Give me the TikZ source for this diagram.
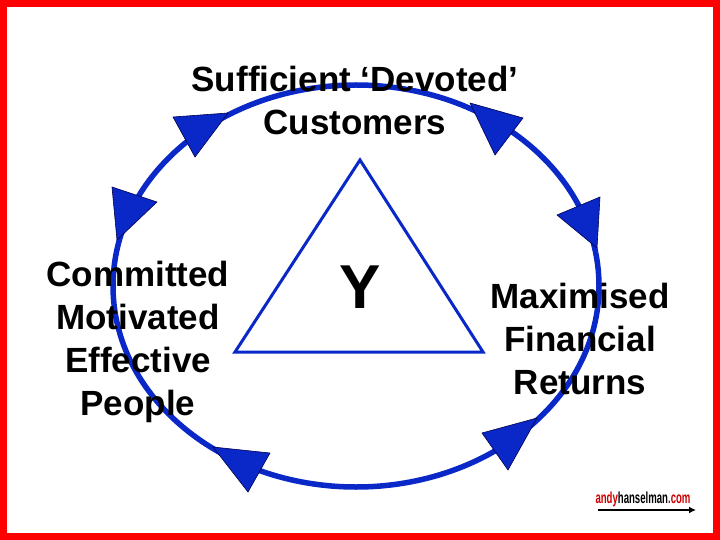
\documentclass[tikz,border=0pt]{standalone}
\usepackage{fontspec}
\usetikzlibrary{arrows.meta}
\setmainfont{Liberation Sans}
\begin{document}
\begin{tikzpicture}[x=1pt,y=-1pt,
  lbl/.style={align=center,font=\bfseries\fontsize{35}{43}\selectfont,inner sep=0pt},
  head/.style={fill={rgb,255:red,10;green,40;blue,200},draw=black!70!blue,line width=0.6pt,line join=miter}]
\definecolor{cblue}{RGB}{10,40,200}
\useasboundingbox (0,0) rectangle (720,540);
\fill[white] (0,0) rectangle (720,540);
\draw[red,line width=7pt] (3.5,3.5) rectangle (716.5,536.5);
\draw[cblue,line width=5.5pt] (356,286) ellipse [x radius=243,y radius=201];
\node[lbl] (top) at (355,100) {Sufficient ‘Devoted’\\Customers};
\node[lbl] (left) at (138,342) {Committed\\Motivated\\Effective\\People};
\node[lbl] (right) at (580,339) {Maximised\\Financial\\Returns};
\draw[cblue,line width=3pt,line join=miter] (360,160) -- (483,352) -- (235,352) -- cycle;
\node[font=\bfseries\fontsize{62}{62}\selectfont,inner sep=0pt] (y) at (360,287) {Y};
\filldraw[head] (173,117) -- (228,113) -- (195,157) -- cycle;
\filldraw[head] (112,187) -- (157,202) -- (117,240) -- cycle;
\filldraw[head] (470,103) -- (523,118) -- (495,155) -- cycle;
\filldraw[head] (557,215) -- (600,197) -- (597,248) -- cycle;
\filldraw[head] (213,447) -- (270,453) -- (248,492) -- cycle;
\filldraw[head] (482,433) -- (537,418) -- (508,470) -- cycle;
\node[inner sep=0pt,font=\bfseries\fontsize{16}{16}\selectfont,xscale=0.6] (logo) at (643,499) {\textcolor{red!80!black}{andy}hanselman\textcolor{red!80!black}{.com}};
\coordinate (la) at (598,510);
\coordinate (lb) at (696,510);
\draw[line width=2pt,-{Latex[length=7pt,width=7pt]}] (la) -- (lb);
\end{tikzpicture}
\end{document}
